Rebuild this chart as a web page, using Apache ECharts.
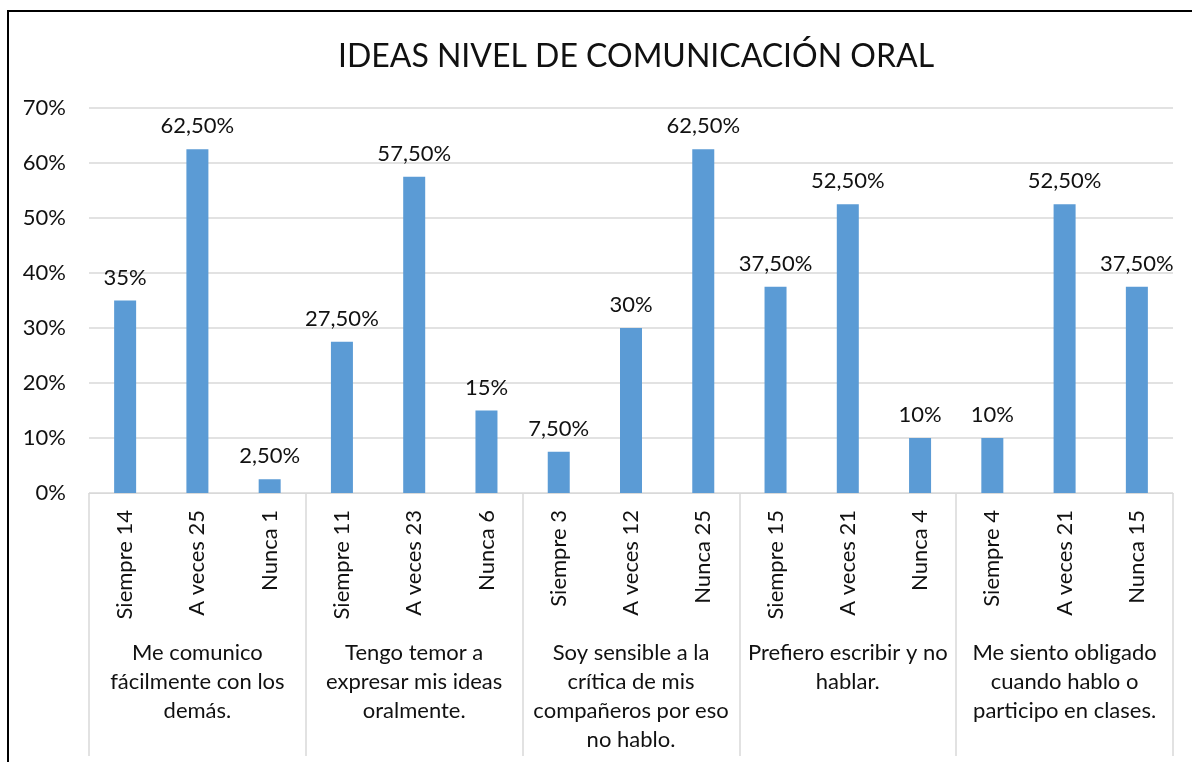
<!DOCTYPE html>
<html>
<head>
<meta charset="utf-8">
<script src="https://cdn.jsdelivr.net/npm/echarts@6/dist/echarts.min.js"></script>
<style>
html,body{margin:0;padding:0;background:#fff;overflow:hidden;}
#frame{position:absolute;left:7px;top:10px;width:1400px;height:1000px;border-left:2px solid #000;border-top:2px solid #000;}
#chart{position:absolute;left:0;top:0;width:1192px;height:762px;}
</style>
</head>
<body>
<div id="frame"></div>
<div id="chart"></div>
<script>
var titleText = 'IDEAS NIVEL DE COMUNICACIÓN ORAL';
var answerLabels = ['Siempre 14','A veces 25','Nunca 1','Siempre 11','A veces 23','Nunca 6','Siempre 3','A veces 12','Nunca 25','Siempre 15','A veces 21','Nunca 4','Siempre 4','A veces 21','Nunca 15'];
var groupLabels = ['Me comunico\nfácilmente con los\ndemás.','Tengo temor a\nexpresar mis ideas\noralmente.','Soy sensible a la\ncrítica de mis\ncompañeros por eso\nno hablo.','Prefiero escribir y no\nhablar.','Me siento obligado\ncuando hablo o\nparticipo en clases.'];
var percentValues = [35,62.5,2.5,27.5,57.5,15,7.5,30,62.5,37.5,52.5,10,10,52.5,37.5];
var yTicks = [0,10,20,30,40,50,60,70];

var FONT = 'Lato';
var TXT = '#111';
var GRID = '#D9D9D9';

var chart = echarts.init(document.getElementById('chart'), null, {renderer:'canvas'});
chart.setOption({
  animation:false,
  backgroundColor:'transparent',
  title:{
    text:titleText,
    left:631, top:36, textAlign:'center',
    textStyle:{fontFamily:FONT,fontSize:32,fontWeight:'normal',color:TXT}
  },
  grid:{left:89,right:19,top:108,bottom:269,containLabel:false},
  xAxis:[{
    type:'category',
    data:answerLabels,
    position:'bottom',
    axisLine:{show:true,lineStyle:{color:GRID,width:1}},
    axisTick:{show:false},
    axisLabel:{rotate:90,margin:17,fontFamily:FONT,fontSize:22,color:TXT,interval:0}
  },{
    type:'category',
    data:groupLabels,
    position:'bottom',
    axisLine:{show:false},
    axisTick:{show:true,length:263,lineStyle:{color:GRID,width:1.5}},
    axisLabel:{margin:145,fontFamily:FONT,fontSize:22,lineHeight:29,color:TXT,interval:0,align:'center',verticalAlign:'top'}
  }],
  yAxis:{
    type:'value',min:yTicks[0],max:yTicks[yTicks.length-1],interval:10,
    axisLine:{show:false},axisTick:{show:false},
    splitLine:{lineStyle:{color:GRID,width:1.5}},
    axisLabel:{formatter:'{value}%',margin:23,fontFamily:FONT,fontSize:22,color:TXT}
  },
  series:[{
    type:'bar',
    data:percentValues,
    xAxisIndex:0,
    barWidth:22,
    itemStyle:{color:'#5B9BD5'},
    label:{
      show:true,position:'top',distance:12,
      fontFamily:FONT,fontSize:22,color:TXT,
      formatter:function(p){var v=p.value;return (Number.isInteger(v)?String(v):v.toFixed(2).replace('.',','))+'%';}
    }
  }]
});
</script>
</body>
</html>
